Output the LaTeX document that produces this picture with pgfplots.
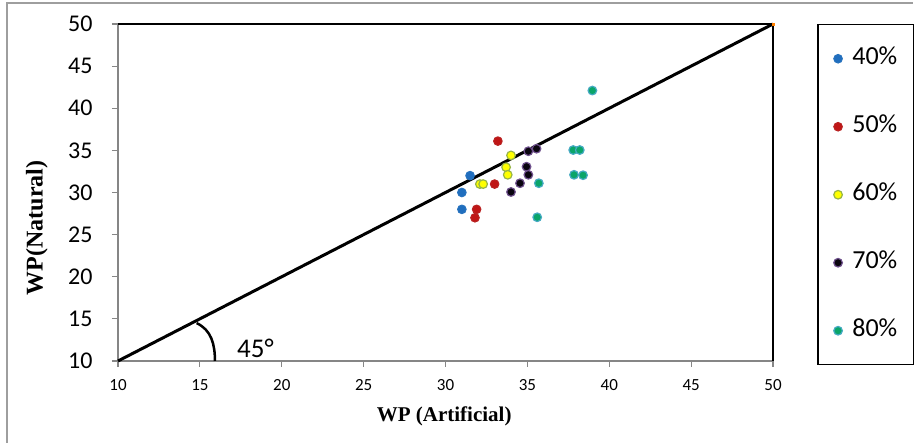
\documentclass[border=0pt]{standalone}
\usepackage{pgfplots}
\pgfplotsset{compat=1.18}
\usepackage{fontspec}
\setmainfont{Carlito}
\newfontfamily\timesfont{Liberation Serif}
\definecolor{cA}{RGB}{32,110,190}
\definecolor{cAe}{RGB}{40,115,190}
\definecolor{cB}{RGB}{192,22,22}
\definecolor{cBe}{RGB}{185,35,35}
\definecolor{cC}{RGB}{255,255,0}
\definecolor{cCe}{RGB}{150,180,70}
\definecolor{cD}{RGB}{10,5,15}
\definecolor{cDe}{RGB}{110,80,140}
\definecolor{cE}{RGB}{10,165,105}
\definecolor{cEe}{RGB}{70,170,195}
\definecolor{axgray}{RGB}{134,134,134}
\begin{document}
\begin{tikzpicture}[x=1pt,y=1pt]
\path[use as bounding box] (0,0) rectangle (919,443);
\draw[axgray!80, line width=1.5pt] (7,0) -- (7,440) -- (913,440);
\begin{axis}[
  at={(118pt,82pt)}, anchor=south west,
  scale only axis, width=655pt, height=337pt,
  xmin=10, xmax=50, ymin=10, ymax=50,
  xtick={10,15,...,50}, ytick={10,15,...,50},
  axis x line*=bottom, axis y line*=left,
  axis line style={axgray, line width=1.5pt, -},
  tick align=outside, major tick length=6pt,
  tick style={axgray, line width=1.2pt},
  /pgf/number format/assume math mode=true,
  xticklabel style={font=\fontsize{17}{20}\selectfont, yshift=-9pt},
  yticklabel style={font=\fontsize{24}{28}\selectfont, xshift=-16pt},
  xlabel={\timesfont\bfseries WP (Artificial)},
  ylabel={\timesfont\bfseries WP(Natural)},
  xlabel style={font=\fontsize{21}{24}\selectfont, at={(axis description cs:0.498,-0.163)}, anchor=center},
  ylabel style={font=\fontsize{24}{27}\selectfont, at={(axis description cs:-0.124,0.395)}, anchor=center},
  clip=false,
  legend cell align=left,
  legend style={at={(axis description cs:1.0672,1)}, anchor=north west,
    draw=black, line width=1.5pt, font=\fontsize{26}{29}\selectfont,
    inner xsep=16pt, inner ysep=23pt, row sep=46pt,
    nodes={inner xsep=0pt, inner ysep=0pt, text height=17pt, text depth=5pt}},
]
\addplot[black, line width=3pt, forget plot] coordinates {(10,10) (50,50)};
\draw[black, line width=2pt] (rel axis cs:0,1) -- (rel axis cs:1,1) -- (rel axis cs:1,0);
\addplot[only marks, mark=*, mark size=4.3pt, mark options={fill=cA, draw=cAe, line width=1pt}] coordinates {
 (31.5,32) (31,30) (31,28)};
\addlegendentry{\hspace{10pt}40\%\hspace{-8pt}}
\addplot[only marks, mark=*, mark size=4.3pt, mark options={fill=cB, draw=cBe, line width=1pt}] coordinates {
 (33.2,36.1) (33,31) (31.9,28) (31.8,27)};
\addlegendentry{\hspace{10pt}50\%\hspace{-8pt}}
\addplot[only marks, mark=*, mark size=4.3pt, mark options={fill=cC, draw=cCe, line width=1.2pt}] coordinates {
 (34,34.4) (33.7,33) (33.8,32.1) (32.1,31) (32.3,31)};
\addlegendentry{\hspace{10pt}60\%\hspace{-8pt}}
\addplot[only marks, mark=*, mark size=4.3pt, mark options={fill=cD, draw=cDe, line width=1.2pt}] coordinates {
 (35.06,34.9) (35.56,35.2) (34.95,33.06) (35.06,32.1) (34.55,31.1) (34,30.06)};
\addlegendentry{\hspace{10pt}70\%\hspace{-8pt}}
\addplot[only marks, mark=*, mark size=4.3pt, mark options={fill=cE, draw=cEe, line width=1.2pt}] coordinates {
 (38.97,42.1) (37.8,35.04) (38.2,35.04) (37.85,32.1) (38.4,32.05) (35.7,31.1) (35.6,27.06)};
\addlegendentry{\hspace{10pt}80\%\hspace{-8pt}}
\addplot[only marks, mark=square*, mark size=1.2pt, color=orange, forget plot] coordinates {(50,50)};
\draw[black, line width=2.5pt] (axis cs:14.8,14.5) to[out=-25,in=90] (axis cs:15.92,10);
\node[anchor=base west, inner sep=0pt, font=\fontsize{27}{30}\selectfont] at (axis cs:17.27,10.36) {45°};
\end{axis}
\end{tikzpicture}
\end{document}
